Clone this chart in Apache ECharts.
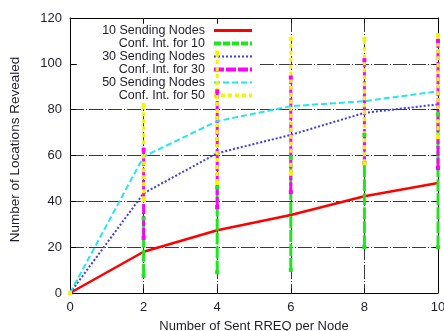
<!DOCTYPE html>
<html><head><meta charset="utf-8">
<script src="https://cdn.jsdelivr.net/npm/echarts@6/dist/echarts.min.js"></script>
<style>html,body{margin:0;padding:0;background:#fff}#c{width:444px;height:331px}</style>
</head><body><div id="c"></div>
<script>
const xValues = [0, 2, 4, 6, 8, 10];
const nodes10 = [0, 18, 27.4, 34, 42.2, 48];
const nodes30 = [0, 43.5, 61, 69, 78.6, 82.3];
const nodes50 = [0, 59.5, 75, 81.5, 83.7, 88];
const ci10Low = [0, 7.5, 9, 10, 20, 20];
const ci10High = [0, 32.5, 46, 59, 69, 78];
const ci30Low = [0, 24, 37.5, 44, 56.6, 54.5];
const ci30High = [0, 62.5, 88, 94, 101.6, 110];
const ci50Low = [0, 40.5, 48, 52, 56.6, 68];
const ci50High = [0, 82, 105, 111, 111, 112.5];
const seriesNames = ['10 Sending Nodes', 'Conf. Int. for 10', '30 Sending Nodes', 'Conf. Int. for 30', '50 Sending Nodes', 'Conf. Int. for 50'];
const xAxisName = 'Number of Sent RREQ per Node';
const yAxisName = 'Number of Locations Revealed';

const FONT = 'Liberation Sans, Arial, sans-serif';
function pairs(ys) { return xValues.map((x, i) => [x, ys[i]]); }
function ciData(lo, hi) {
  const d = [];
  xValues.forEach((x, i) => { d.push([x, lo[i]]); d.push([x, hi[i]]); d.push([x, '-']); });
  return d;
}
function meanSeries(name, ys, color, width, type) {
  return { name, type: 'line', data: pairs(ys), symbol: 'none', showSymbol: false,
    lineStyle: { color, width, type }, itemStyle: { color }, z: 2, silent: true };
}
function ciSeries(name, lo, hi, color, width, type) {
  return { name, type: 'line', data: ciData(lo, hi), connectNulls: false,
    symbol: 'rect', symbolSize: 4, showSymbol: true,
    lineStyle: { color, width, type }, itemStyle: { color }, z: 2, silent: true };
}

const chart = echarts.init(document.getElementById('c'), null, { renderer: 'canvas' });
const gridLine = { color: '#3a3a3a', width: 1, type: [14, 2, 1, 2] };
chart.setOption({
  animation: false,
  backgroundColor: '#fff',
  grid: { left: 70, right: 6, top: 18, bottom: 38, containLabel: false, outerBoundsMode: 'none' },
  legend: {
    orient: 'vertical', align: 'right', right: 186, top: 24,
    itemWidth: 38, itemHeight: 12.8, itemGap: 0,
    backgroundColor: '#fff', padding: [0, 4, 1, 25], z: 1,
    textStyle: { fontFamily: FONT, fontSize: 12.5, color: '#1e1e2a', lineHeight: 12.8, padding: [0, 4, 0, 0] },
    itemStyle: { opacity: 0 },
    data: [
      { name: seriesNames[0], lineStyle: { width: 3 } },
      { name: seriesNames[1], lineStyle: { width: 4, type: [7, 2] } },
      { name: seriesNames[2], lineStyle: { width: 2 } },
      { name: seriesNames[3], lineStyle: { width: 4 } },
      { name: seriesNames[4], lineStyle: { width: 2 } },
      { name: seriesNames[5], lineStyle: { width: 4 } }
    ]
  },
  xAxis: [{
    type: 'value', min: 0, max: 10, interval: 2, position: 'bottom',
    name: xAxisName, nameLocation: 'middle', nameGap: 27,
    nameTextStyle: { fontFamily: FONT, fontSize: 13, color: '#1e1e2a' },
    axisLine: { show: true, onZero: false, lineStyle: { color: '#000', width: 1 } },
    axisTick: { show: true, inside: true, length: 5, lineStyle: { color: '#000' } },
    axisLabel: { fontFamily: FONT, fontSize: 13, color: '#1e1e2a', margin: 8 },
    splitLine: { show: true, lineStyle: gridLine }
  }, {
    type: 'value', min: 0, max: 10, interval: 2, position: 'top',
    axisLine: { show: true, onZero: false, lineStyle: { color: '#000', width: 1 } },
    axisTick: { show: true, inside: true, length: 5, lineStyle: { color: '#000' } },
    axisLabel: { show: false }, splitLine: { show: false }
  }],
  yAxis: [{
    type: 'value', min: 0, max: 120, interval: 20, position: 'left',
    name: yAxisName, nameLocation: 'middle', nameGap: 48, nameRotate: 90,
    nameTextStyle: { fontFamily: FONT, fontSize: 13.5, color: '#1e1e2a', padding: [0, 0, 0, 12] },
    axisLine: { show: true, onZero: false, lineStyle: { color: '#000', width: 1 } },
    axisTick: { show: true, inside: true, length: 6, lineStyle: { color: '#000' } },
    axisLabel: { fontFamily: FONT, fontSize: 13, color: '#1e1e2a', margin: 8 },
    splitLine: { show: true, lineStyle: gridLine }
  }, {
    type: 'value', min: 0, max: 120, interval: 20, position: 'right',
    axisLine: { show: true, onZero: false, lineStyle: { color: '#000', width: 1 } },
    axisTick: { show: true, inside: true, length: 5, lineStyle: { color: '#000' } },
    axisLabel: { show: false }, splitLine: { show: false }
  }],
  series: [
    meanSeries(seriesNames[0], nodes10, '#ff0000', 2.5, 'solid'),
    ciSeries(seriesNames[1], ci10Low, ci10High, '#1ee61e', 3, [12, 2]),
    meanSeries(seriesNames[2], nodes30, '#3c3cf0', 2, [2, 2]),
    ciSeries(seriesNames[3], ci30Low, ci30High, '#ff00ff', 3, [10, 2]),
    meanSeries(seriesNames[4], nodes50, '#22e6f0', 2, [6, 3]),
    ciSeries(seriesNames[5], ci50Low, ci50High, '#f5f500', 3, [4, 3])
  ]
});
</script></body></html>
